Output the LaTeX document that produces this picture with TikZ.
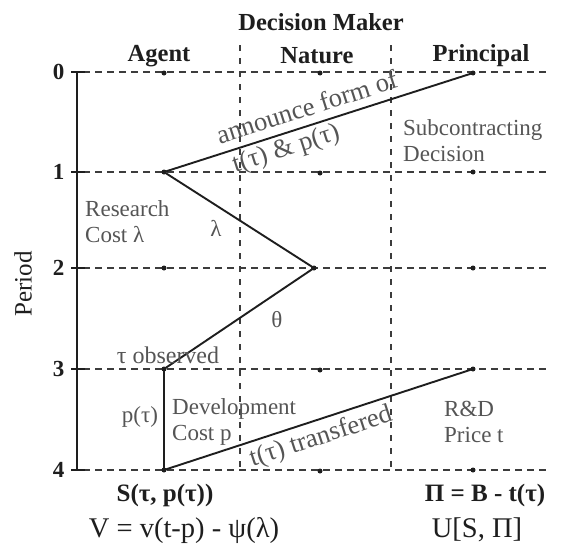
\documentclass[tikz,border=0pt]{standalone}
\usepackage{fontspec}
\setmainfont{Liberation Serif}
\usetikzlibrary{positioning, calc}
\definecolor{cInk}{RGB}{30,30,30}
\definecolor{cGrid}{RGB}{60,60,60}
\definecolor{cNote}{RGB}{85,85,85}
\tikzset{
	gridline/.style={dash pattern=on 7pt off 5pt, line width=1.1pt, draw=cGrid},
	colline/.style ={dash pattern=on 6pt off 7pt, line width=1.1pt, draw=cGrid},
	move/.style    ={line width=1.9pt, draw=cInk},
	axisline/.style={line width=2.8pt, draw=cInk},
	dot/.style     ={circle, fill=cInk, inner sep=0pt, minimum size=5pt},
	head/.style    ={font=\fontsize{24.5}{28}\selectfont\bfseries, text=cInk},
	period/.style  ={font=\fontsize{23}{26}\selectfont\bfseries, text=cInk, anchor=east},
	note/.style    ={font=\fontsize{23}{26}\selectfont, text=cNote, align=left, inner sep=0pt},
	slope/.style   ={note, font=\fontsize{26.5}{30}\selectfont, sloped},
	payoff/.style  ={font=\fontsize{25}{28}\selectfont\bfseries, text=cInk},
	value/.style   ={font=\fontsize{28.5}{32}\selectfont, text=cInk, inner sep=1pt},
}

\begin{document}
\begin{tikzpicture}[x=1pt, y=-1pt]
	\path[use as bounding box, fill=white] (0,0) rectangle (561,546);
	% headers
	\node[head] (dm) at (321,22) {Decision Maker};
	\node[head] (agent) at (159,56) {Agent};
	\node[head] (nature) at (317,56) {Nature};
	\node[head] (principal) at (481,56) {Principal};
	\node[font=\fontsize{25}{28}\selectfont, text=cInk, rotate=90] (per) at (23,284) {Period};
	% period grid
	\foreach \r/\y in {0/72,1/172,2/268,3/369,4/470} {
		\coordinate (gl\r) at (83,\y);
		\coordinate (gr\r) at (550,\y);
		\coordinate (tl\r) at (71,\y);
		\coordinate (tr\r) at (85,\y);
		\draw[gridline] (gl\r) -- (gr\r);
		\draw[axisline, line width=1.6pt] (tl\r) -- (tr\r);
		\node[period] (p\r) at (68,\y) {\r};
	}
	\coordinate (ax0) at (77,72);
	\coordinate (ax4) at (77,470);
	\draw[axisline] (ax0) -- (ax4);
	% player columns
	\coordinate (ca) at (240,45);
	\coordinate (cb) at (240,470);
	\coordinate (cc) at (391,45);
	\coordinate (cd) at (391,470);
	\draw[colline] (ca) -- (cb);
	\draw[colline] (cc) -- (cd);
	% decision points
	\foreach \r/\y in {0/73,1/172,2/268,3/369,4/470} {
		\node[dot] (ag\r) at (164,\y) {};
		\node[dot] (pr\r) at (473,\y) {};
	}
	\foreach \r/\y in {0/73,1/173,3/370,4/471} {
		\node[dot] (na\r) at (320,\y) {};
	}
	\node[dot] (na2) at (314,268) {};
	% moves
	\draw[move] (ag1.center) -- node[slope, pos=0.48, above=8pt] {announce form of}
		node[slope, pos=0.38, below=3pt] {t(τ) \& p(τ)} (pr0.center);
	\draw[move] (ag1.center) -- (na2.center) -- (ag3.center);
	\draw[move, line width=1.2pt] (ag3.center) -- (ag4.center);
	\draw[move] (ag4.center) -- node[slope, pos=0.49, below=5pt] {t(τ) transfered} (pr3.center);
	% notes
	\node[note, anchor=west] (sub) at (403,141) {Subcontracting\\Decision};
	\node[note, anchor=west] (res) at (85,222) {Research\\Cost λ};
	\node[note] (lam) at (216,228) {λ};
	\node[note] (the) at (277,320) {θ};
	\node[note, font=\fontsize{24}{26}\selectfont] (obs) at (168,355) {τ observed};
	\node[note] (pt) at (140,417) {p(τ)};
	\node[note, anchor=west] (dev) at (172,422) {Development\\Cost p};
	\node[note, anchor=west] (rd) at (444,422) {R\&D\\Price t};
	% payoffs
	\node[payoff] (sa) at (165,495) {S(τ, p(τ))};
	\node[payoff] (sp) at (485,495) {Π = B - t(τ)};
	\node[value] (va) at (184,530) {V = v(t-p) - ψ(λ)};
	\node[value] (vp) at (477,530) {U[S, Π]};
\end{tikzpicture}
\end{document}
